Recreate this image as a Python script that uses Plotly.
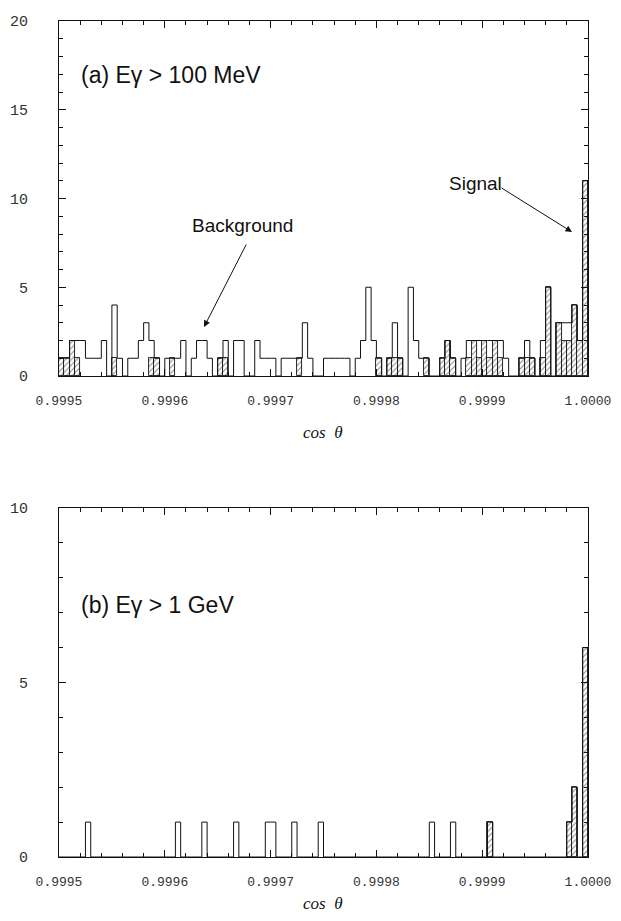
import plotly.graph_objects as go

# ---------------- data ----------------
x_start = 0.9995
bin_width = 0.000005

# panel (a): E_gamma > 100 MeV  (100 bins of width 5e-6 from 0.9995 to 1.0000)
a_open = [1, 1, 2, 2, 2, 1, 1, 1, 2, 0,
          4, 1, 0, 1, 1, 2, 3, 2, 1, 0,
          1, 1, 1, 2, 0, 1, 2, 2, 1, 0,
          1, 2, 0, 2, 2, 0, 0, 2, 1, 1,
          1, 0, 1, 1, 1, 1, 3, 1, 0, 0,
          1, 1, 1, 1, 1, 0, 1, 2, 5, 2,
          1, 0, 1, 3, 1, 0, 5, 2, 1, 1,
          0, 0, 1, 2, 1, 0, 1, 2, 2, 2,
          2, 2, 2, 2, 1, 0, 0, 1, 2, 1,
          0, 2, 5, 0, 3, 3, 3, 4, 2, 11]
a_hatched = [1, 1, 2, 1, 0, 0, 0, 0, 0, 0,
             1, 0, 0, 0, 0, 0, 0, 1, 1, 0,
             0, 1, 0, 0, 0, 0, 0, 0, 0, 0,
             1, 1, 0, 0, 0, 0, 0, 0, 0, 0,
             0, 0, 0, 0, 0, 1, 0, 0, 0, 0,
             0, 0, 0, 0, 0, 0, 0, 0, 0, 0,
             1, 0, 1, 1, 1, 0, 0, 0, 0, 1,
             0, 0, 1, 2, 1, 0, 0, 1, 2, 1,
             2, 1, 2, 1, 0, 0, 0, 1, 1, 1,
             0, 1, 5, 0, 3, 2, 2, 4, 2, 11]

# panel (b): E_gamma > 1 GeV
b_open = [0, 0, 0, 0, 0, 1, 0, 0, 0, 0,
          0, 0, 0, 0, 0, 0, 0, 0, 0, 0,
          0, 0, 1, 0, 0, 0, 0, 1, 0, 0,
          0, 0, 0, 1, 0, 0, 0, 0, 0, 1,
          1, 0, 0, 0, 1, 0, 0, 0, 0, 1,
          0, 0, 0, 0, 0, 0, 0, 0, 0, 0,
          0, 0, 0, 0, 0, 0, 0, 0, 0, 0,
          1, 0, 0, 0, 1, 0, 0, 0, 0, 0,
          0, 1, 0, 0, 0, 0, 0, 0, 0, 0,
          0, 0, 0, 0, 0, 0, 1, 2, 0, 6]
b_hatched = [0] * 81 + [1] + [0] * 14 + [1, 2, 0, 6]

x_tick_vals = [0.9995, 0.9996, 0.9997, 0.9998, 0.9999, 1.0000]
x_tick_text = ["0.9995", "0.9996", "0.9997", "0.9998", "0.9999", "1.0000"]
a_y_ticks = [0, 5, 10, 15, 20]
b_y_ticks = [0, 5, 10]

# ---------------- helpers ----------------
# page is 621x921; the html body adds an 8px margin, so the figure starts at (8, 8)
OFF = 8
W, H = 621 - OFF, 921 - 2 * OFF


def px(x):
    return (x - OFF) / W


def py(y):
    return 1 - (y - OFF) / H


n = len(a_open)
edges = [x_start + k * bin_width for k in range(n + 1)]
centers = [x_start + (k + 0.5) * bin_width for k in range(n)]


def step_trace(vals, xa, ya):
    xs = edges[:]
    ys = list(vals) + [vals[-1]]
    xs.append(edges[-1])
    ys.append(0)
    return go.Scatter(x=xs, y=ys, mode="lines", line=dict(shape="hv", color="#111", width=1),
                      xaxis=xa, yaxis=ya, hoverinfo="skip", showlegend=False)


def hatch_trace(vals, xa, ya):
    xs = [c for c, v in zip(centers, vals) if v > 0]
    ys = [v for v in vals if v > 0]
    return go.Bar(x=xs, y=ys, width=bin_width, xaxis=xa, yaxis=ya, showlegend=False,
                  marker=dict(color="white",
                              line=dict(color="#111", width=0.9),
                              pattern=dict(shape="/", size=4, solidity=0.25,
                                           fgcolor="#111", bgcolor="white")))


fig = go.Figure()
fig.add_trace(hatch_trace(a_hatched, "x", "y"))
fig.add_trace(step_trace(a_open, "x", "y"))
fig.add_trace(hatch_trace(b_hatched, "x2", "y2"))
fig.add_trace(step_trace(b_open, "x2", "y2"))

xtickfont = dict(family="Liberation Mono, DejaVu Sans Mono, monospace", size=13, color="#333")
ytickfont = dict(family="Liberation Mono, DejaVu Sans Mono, monospace", size=15, color="#333")

xcommon = dict(range=[0.9995, 1.0], tickvals=x_tick_vals, ticktext=x_tick_text,
               showline=True, linecolor="#111", linewidth=1, mirror="ticks",
               ticks="inside", ticklen=7, tickcolor="#111", tickwidth=1,
               minor=dict(dtick=0.00002, tick0=0.9995, ticks="inside", ticklen=4,
                          tickcolor="#111", tickwidth=1),
               showgrid=False, zeroline=False, tickfont=xtickfont, ticklabelstandoff=12,
               automargin=False)

ycommon = dict(showline=True, linecolor="#111", linewidth=1, mirror="ticks",
               ticks="inside", ticklen=7, tickcolor="#111", tickwidth=1,
               showgrid=False, zeroline=False, tickfont=ytickfont, ticklabelstandoff=27,
               automargin=False)

fig.update_layout(
    width=W, height=H,
    margin=dict(l=0, r=0, t=0, b=0, pad=0, autoexpand=False),
    paper_bgcolor="white", plot_bgcolor="white",
    barmode="overlay", bargap=0,
    xaxis=dict(domain=[px(59), px(588)], anchor="y", **xcommon),
    yaxis=dict(domain=[py(376), py(21)], anchor="x", range=[0, 20], tickvals=a_y_ticks,
               minor=dict(dtick=1, ticks="inside", ticklen=4, tickcolor="#111"), **ycommon),
    xaxis2=dict(domain=[px(59), px(588)], anchor="y2", **xcommon),
    yaxis2=dict(domain=[py(857), py(508)], anchor="x2", range=[0, 10], tickvals=b_y_ticks,
                minor=dict(dtick=1, ticks="inside", ticklen=4, tickcolor="#111"), **ycommon),
)

label_font = dict(family="Liberation Sans, Arial, sans-serif", size=19, color="#111")
title_font = dict(family="Liberation Serif, Times New Roman, serif", size=17, color="#111")
panel_font = dict(family="Liberation Sans, Arial, sans-serif", size=23, color="#111")

ann = [
    dict(text="(a) Eγ > 100 MeV", x=px(79), y=py(75), xanchor="left", yanchor="middle", font=panel_font),
    dict(text="Signal", x=px(447), y=py(183), xanchor="left", yanchor="middle", font=label_font),
    dict(text="Background", x=px(190), y=py(225), xanchor="left", yanchor="middle", font=label_font),
    dict(text="(b) Eγ > 1 GeV", x=px(79), y=py(605), xanchor="left", yanchor="middle", font=panel_font),
    dict(text="<i>cos  θ</i>", x=px(323), y=py(432), xanchor="center", yanchor="middle", font=title_font),
    dict(text="<i>cos  θ</i>", x=px(323), y=py(903), xanchor="center", yanchor="middle", font=title_font),
    # arrows
    dict(text="", x=px(572), y=py(232), ax=500 - 572, ay=187 - 232, showarrow=True,
         arrowhead=2, arrowsize=1.3, arrowwidth=1, arrowcolor="#111"),
    dict(text="", x=px(204), y=py(327), ax=247 - 204, ay=243 - 327, showarrow=True,
         arrowhead=2, arrowsize=1.3, arrowwidth=1, arrowcolor="#111"),
]
for a in ann:
    a.setdefault("xref", "paper")
    a.setdefault("yref", "paper")
    a.setdefault("showarrow", False)
    fig.add_annotation(**a)

fig.write_html("out.html")
